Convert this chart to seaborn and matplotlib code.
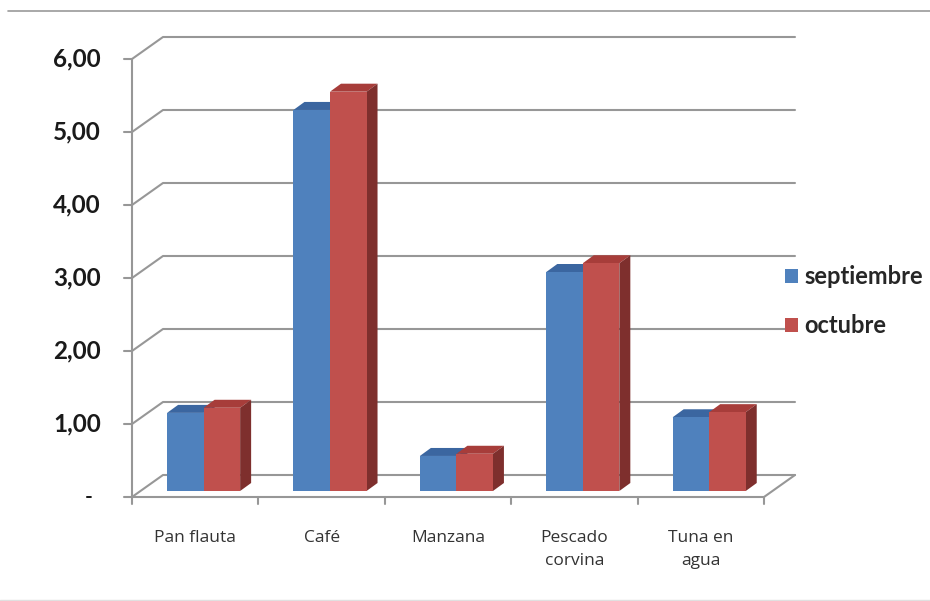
import pandas as pd
import seaborn as sns
import matplotlib.pyplot as plt
from matplotlib.patches import Polygon

productos = ["Pan flauta", "Café", "Manzana", "Pescado\ncorvina", "Tuna en\nagua"]
septiembre = [1.07, 5.22, 0.48, 3.00, 1.01]
octubre = [1.14, 5.47, 0.51, 3.12, 1.08]
meses = ["septiembre", "octubre"]
yticks = [0, 1, 2, 3, 4, 5, 6]
ytick_labels = ["-", "1,00", "2,00", "3,00", "4,00", "5,00", "6,00"]

df = pd.DataFrame({
    "producto": productos * 2,
    "precio": septiembre + octubre,
    "mes": [meses[0]] * 5 + [meses[1]] * 5,
})

sns.set_style("white")
plt.rcParams["font.family"] = ["Lato", "DejaVu Sans"]

front_cols = ["#4F81BD", "#C0504D"]
top_cols = ["#3B66A0", "#A73D3A"]
side_cols = ["#33598C", "#7E2F2D"]
grid_col = "#979797"

fig = plt.figure(figsize=(9.3, 6.01), dpi=100)
# axes = plane where the bars stand (a bit behind the front of the floor)
ax = fig.add_axes([140.4 / 930, 110 / 601, 632 / 930, 438 / 601])
sns.barplot(data=df, x="producto", y="precio", hue="mes", palette=front_cols,
            width=0.578, gap=0, saturation=1, edgecolor="none", ax=ax, zorder=3)
handles, labels = ax.get_legend_handles_labels()
ax.get_legend().remove()
ax.set_xlim(-0.5, 4.5)
ax.set_ylim(0, 6)
ax.set_axis_off()

# pixel -> data unit sizes
ux = 632 / 5
uy = 438 / 6
fx, fy = -8.4 / ux, -6 / uy          # front of the box
bx, by = 22.6 / ux, 16 / uy          # back wall
dx, dy = 11 / ux, 8 / uy             # depth of each bar

line_kw = dict(color=grid_col, lw=1.5, clip_on=False, zorder=1)

# floor and back wall gridlines
for y in yticks:
    ax.plot([-0.5 + fx, -0.5 + bx, 4.5 + bx], [y + fy, y + by, y + by], **line_kw)
ax.plot([-0.5 + fx, 4.5 + fx, 4.5 + bx], [fy, fy, by], **line_kw)
# front vertical axis
ax.plot([-0.5 + fx, -0.5 + fx], [fy, 6 + fy], **line_kw)
for y, lab in zip(yticks, ytick_labels):
    ax.plot([-0.5 + fx - 8 / ux, -0.5 + fx], [y + fy, y + fy], **line_kw)
    if lab == "-":
        ax.text(-0.5 + fx - 43 / ux, y + fy, lab, ha="center", va="center",
                fontsize=15, fontweight="bold", color="#1a1a1a")
    else:
        ax.text(-0.5 + fx - 31 / ux, y + fy, lab, ha="right", va="center",
                fontsize=17.5, fontweight="bold", color="#1a1a1a")
for i in range(6):
    ax.plot([i - 0.5 + fx, i - 0.5 + fx], [fy, fy - 7 / uy], **line_kw)
for i, lab in enumerate(productos):
    ax.text(i + fx, fy - 33 / uy, lab, ha="center", va="top", fontsize=12.5,
            color="#333333", family=["Open Sans", "DejaVu Sans"], linespacing=1.6)

# 3D faces of the bars
for k, cont in enumerate(ax.containers):
    for bar in cont:
        x0 = bar.get_x()
        x1 = x0 + bar.get_width()
        h = bar.get_height()
        ax.add_patch(Polygon([(x0, h), (x1, h), (x1 + dx, h + dy), (x0 + dx, h + dy)],
                             closed=True, facecolor=top_cols[k], edgecolor="none", zorder=2))
        ax.add_patch(Polygon([(x1, 0), (x1 + dx, dy), (x1 + dx, h + dy), (x1, h)],
                             closed=True, facecolor=side_cols[k], edgecolor="none", zorder=2))

fig.legend(handles, labels, loc="center left", bbox_to_anchor=(776 / 930, 1 - 301 / 601),
           frameon=False, prop={"weight": "bold", "size": 17},
           handlelength=0.55, handleheight=0.55, handletextpad=0.25, labelspacing=1.1,
           borderaxespad=0)

# thin frame lines of the original picture
fig.add_artist(plt.Line2D([8 / 930, 1], [1 - 11 / 601] * 2, color="#9a9a9a", lw=1.2))
fig.add_artist(plt.Line2D([0, 1], [1 / 601] * 2, color="#e0e0e0", lw=1))

fig.savefig("out.png", dpi=100, facecolor="white")
